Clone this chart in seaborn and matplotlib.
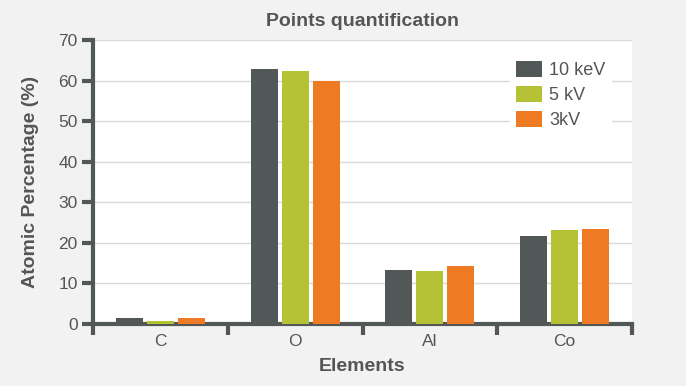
import pandas as pd
import matplotlib.pyplot as plt
import seaborn as sns

# values
elements = ["C", "O", "Al", "Co"]
series = ["10 keV", "5 kV", "3kV"]
kev10 = [1.5, 62.8, 13.3, 21.7]
kv5 = [0.7, 62.4, 13.1, 23.2]
kv3 = [1.5, 60.0, 14.3, 23.4]
colors = ["#525858", "#b5c235", "#ee7a24"]

df = pd.DataFrame({
    "Elements": elements * 3,
    "Serie": [s for s in series for _ in elements],
    "Valore": kev10 + kv5 + kv3,
})

sns.set_theme(style="white")
plt.rcParams["font.family"] = ["Liberation Sans", "DejaVu Sans"]
dark = "#525858"
txt = "#555555"

fig = plt.figure(figsize=(6.86, 3.86), dpi=100, facecolor="#f2f2f2")
ax = fig.add_axes([0.1356, 0.1606, 0.7857, 0.7358])
ax.set_facecolor("white")

sns.barplot(data=df, x="Elements", y="Valore", hue="Serie", palette=colors,
            width=0.69, gap=0.13, saturation=1, ax=ax, zorder=3, linewidth=0)

ax.set_ylim(0, 70)
ax.set_xlim(-0.5, 3.5)
ax.set_yticks(range(0, 71, 10))
ax.yaxis.grid(True, color="#d9d9d9", linewidth=1, zorder=0)
ax.set_axisbelow(True)

for s in ["top", "right"]:
    ax.spines[s].set_visible(False)
for s in ["left", "bottom"]:
    ax.spines[s].set_color(dark)
    ax.spines[s].set_linewidth(3)

ax.set_xticks([-0.5, 0.5, 1.5, 2.5, 3.5], minor=True)
ax.tick_params(axis="x", which="major", bottom=True, length=0, labelsize=12.5,
               labelcolor=txt, pad=7)
ax.tick_params(axis="x", which="minor", bottom=True, length=8, width=3, color=dark,
               direction="out")
ax.tick_params(axis="y", left=True, length=8, width=3, color=dark, labelsize=12.5,
               labelcolor=txt, pad=3)

ax.set_title("Points quantification", fontsize=14, fontweight="bold", color=txt, pad=10)
ax.set_xlabel("Elements", fontsize=14, fontweight="bold", color=txt)
ax.set_ylabel("Atomic Percentage (%)", fontsize=14, fontweight="bold", color=txt)
ax.xaxis.set_label_coords(0.5, -0.12)
ax.yaxis.set_label_coords(-0.101, 0.5)

leg = ax.legend(loc="upper left", bbox_to_anchor=(0.774, 0.944), frameon=True,
                facecolor="white", edgecolor="white", framealpha=1, fancybox=False,
                fontsize=13, handlelength=1.45, handleheight=0.95, handletextpad=0.4,
                labelspacing=0.38, borderpad=0.3, borderaxespad=0)
for t in leg.get_texts():
    t.set_color(txt)

fig.savefig("out.png", dpi=100, facecolor=fig.get_facecolor())
